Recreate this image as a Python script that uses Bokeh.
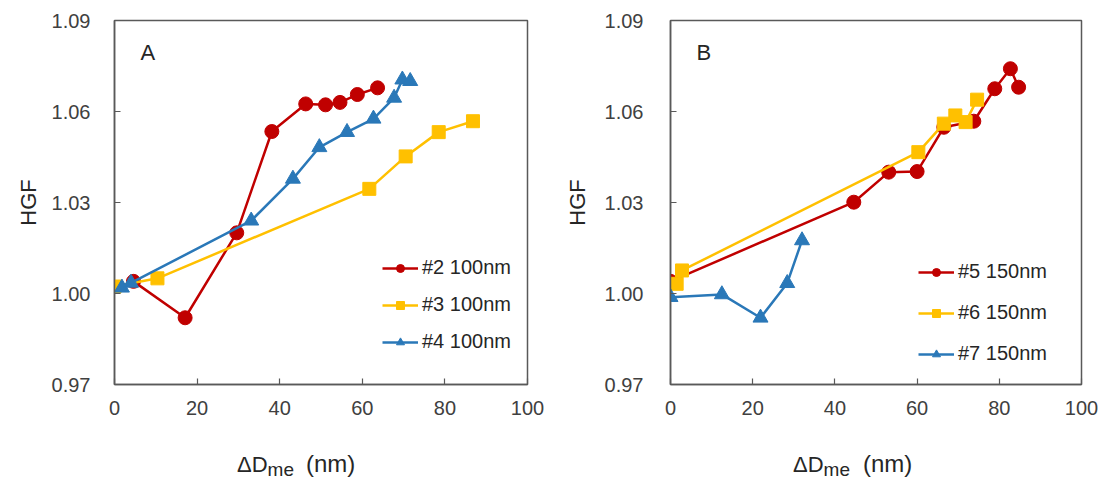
from bokeh.plotting import figure
from bokeh.layouts import row, column
from bokeh.models import Range1d, FixedTicker, Label, Legend, LegendItem, PrintfTickFormatter, Div
from bokeh.embed import file_html
from bokeh.resources import INLINE

# ---------------- data ----------------
x_ticks = [0, 20, 40, 60, 80, 100]
y_ticks = [0.97, 1.00, 1.03, 1.06, 1.09]

# Panel A (100 nm)
a2_x = [4.6, 17.1, 29.6, 38.1, 46.3, 51.1, 54.6, 58.8, 63.7]
a2_y = [1.0040, 0.9920, 1.0200, 1.0534, 1.0625, 1.0622, 1.0630, 1.0656, 1.0678]
a3_x = [0.0, 10.4, 61.7, 70.5, 78.5, 86.8]
a3_y = [1.0023, 1.0050, 1.0345, 1.0452, 1.0532, 1.0568]
a4_x = [1.8, 4.0, 33.1, 43.2, 49.6, 56.3, 62.7, 67.7, 69.7, 71.6]
a4_y = [1.0019, 1.0035, 1.0240, 1.0378, 1.0482, 1.0532, 1.0576, 1.0645, 1.0705, 1.0700]

# Panel B (150 nm)
b5_x = [0.0, 44.6, 53.1, 60.0, 66.5, 73.8, 78.9, 82.7, 84.7]
b5_y = [1.0040, 1.0301, 1.0400, 1.0402, 1.0548, 1.0568, 1.0675, 1.0741, 1.0680]
b6_x = [1.5, 2.8, 60.3, 66.5, 69.3, 71.8, 74.6]
b6_y = [1.0032, 1.0076, 1.0466, 1.0560, 1.0587, 1.0565, 1.0639]
b7_x = [0.0, 12.5, 21.9, 28.4, 32.0]
b7_y = [0.9988, 0.9997, 0.9920, 1.0034, 1.0175]

labels_a = ["#2 100nm", "#3 100nm", "#4 100nm"]
labels_b = ["#5 150nm", "#6 150nm", "#7 150nm"]

RED = "#C00000"
YEL = "#FFC000"
BLU = "#2A78B8"
FONT = "Liberation Sans"
GREY = "#595959"
TXT = "#262626"

W = 553
MAIN_H = 428
STRIP_H = 55


def make_panel(series, labels, letter, left, right, ylab_standoff, ytick_standoff,
               legend_loc, legend_spacing):
    p = figure(width=W, height=MAIN_H, output_backend="svg", toolbar_location=None,
               x_range=Range1d(0, 100), y_range=Range1d(0.97, 1.09),
               min_border_left=left, min_border_right=right, min_border_top=20,
               min_border_bottom=MAIN_H - 384)
    p.background_fill_color = "white"
    p.border_fill_color = "white"
    p.outline_line_color = GREY
    p.outline_line_width = 1.5
    p.xgrid.grid_line_color = None
    p.ygrid.grid_line_color = None

    p.xaxis.ticker = FixedTicker(ticks=x_ticks)
    p.yaxis.ticker = FixedTicker(ticks=y_ticks)
    p.yaxis.formatter = PrintfTickFormatter(format="%.2f")
    for ax in (p.xaxis[0], p.yaxis[0]):
        ax.axis_line_color = GREY
        ax.axis_line_width = 1.5
        ax.major_tick_line_color = GREY
        ax.major_tick_line_width = 1.2
        ax.major_tick_in = 6
        ax.major_tick_out = 0
        ax.minor_tick_line_color = None
        ax.major_label_text_font = FONT
        ax.major_label_text_font_size = "20px"
        ax.major_label_text_color = "#404040"
    p.xaxis.major_label_standoff = 16
    p.yaxis.major_label_standoff = ytick_standoff
    p.yaxis.axis_label = "HGF"
    p.yaxis.axis_label_text_font = FONT
    p.yaxis.axis_label_text_font_size = "22px"
    p.yaxis.axis_label_text_font_style = "normal"
    p.yaxis.axis_label_text_color = TXT
    p.yaxis.axis_label_standoff = ylab_standoff

    items = []
    markers = ["circle", "square", "triangle"]
    sizes = [14, 13, 15]
    colors = [RED, YEL, BLU]
    for (xs, ys), lab, mk, sz, col in zip(series, labels, markers, sizes, colors):
        lr = p.line(xs, ys, line_color=col, line_width=2.5)
        sr = p.scatter(xs, ys, marker=mk, size=sz, fill_color=col, line_color=col)
        items.append(LegendItem(label=lab, renderers=[lr, sr]))

    leg = Legend(items=items, location=legend_loc,
                 label_text_font=FONT, label_text_font_size="20px",
                 label_text_color=TXT,
                 glyph_width=36, glyph_height=20, label_standoff=4,
                 spacing=legend_spacing, padding=10, margin=0,
                 border_line_color=None, background_fill_color="white",
                 background_fill_alpha=1.0)
    p.add_layout(leg, "center")

    # panel letter
    p.add_layout(Label(x=6.3, y=1.0794, text=letter, text_font=FONT,
                       text_font_size="22px", text_color=TXT,
                       text_baseline="alphabetic"))
    return p


def make_title_strip(left_px, nm_gap):
    """HTML strip under a panel holding the x-axis title with its subscript."""
    html = (
        f'<div style="margin-left:{left_px}px; margin-top:24px; white-space:nowrap; '
        f'font-family:\'Liberation Sans\', Arial, sans-serif; color:{TXT}; line-height:1;">'
        '<span style="font-size:22px;">ΔD</span>'
        '<span style="font-size:19px; position:relative; top:4px;">me</span>'
        f'<span style="font-size:24px; margin-left:{nm_gap}px;">(nm)</span>'
        '</div>'
    )
    return Div(text=html, width=W, height=STRIP_H, margin=0)


pA = make_panel([(a2_x, a2_y), (a3_x, a3_y), (a4_x, a4_y)], labels_a, "A",
                left=114, right=26, ylab_standoff=8, ytick_standoff=24,
                legend_loc=(268, 31), legend_spacing=14)
pB = make_panel([(b5_x, b5_y), (b6_x, b6_y), (b7_x, b7_y)], labels_b, "B",
                left=117, right=25, ylab_standoff=12, ytick_standoff=27,
                legend_loc=(248, 19), legend_spacing=18)

sA = make_title_strip(237, 12)
sB = make_title_strip(240, 13)

layout = row(column(pA, sA, spacing=0), column(pB, sB, spacing=0), spacing=0)
open("out.html", "w").write(file_html(layout, INLINE))
